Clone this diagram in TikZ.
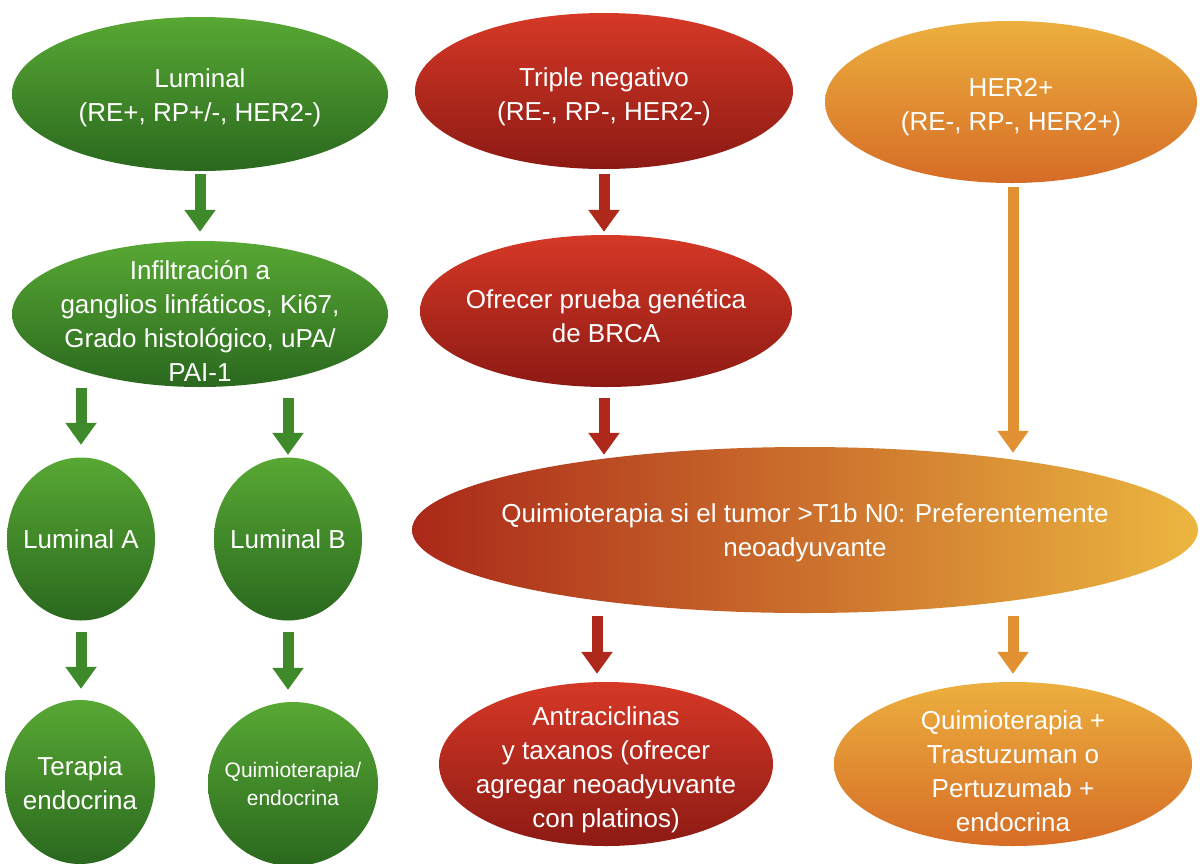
\documentclass[tikz,border=0pt]{standalone}
\usepackage{fontspec}
\setmainfont{Liberation Sans}
\usetikzlibrary{shapes.geometric,arrows.meta,calc}
\definecolor{gtop}{RGB}{88,168,52}
\definecolor{gbot}{RGB}{42,104,30}
\definecolor{rtop}{RGB}{214,56,38}
\definecolor{rbot}{RGB}{140,26,20}
\definecolor{otop}{RGB}{236,175,62}
\definecolor{obot}{RGB}{214,108,38}
\definecolor{bleft}{RGB}{170,40,25}
\definecolor{bright}{RGB}{236,182,64}
\definecolor{garrc}{RGB}{62,138,42}
\definecolor{rarrc}{RGB}{175,40,28}
\definecolor{oarrc}{RGB}{226,145,50}
\newcommand\tpad[1]{\rule{0pt}{#1pt}}
\tikzset{
  bub/.style={ellipse, inner sep=-150pt, text=white, align=center,
    font=\fontsize{26}{34}\selectfont},
  gbub/.style={bub, top color=gtop, bottom color=gbot},
  rbub/.style={bub, top color=rtop, bottom color=rbot},
  obub/.style={bub, top color=otop, bottom color=obot},
  arr/.style={line width=11pt, -{Triangle[width=30pt,length=22pt]}},
  garr/.style={arr, draw=garrc, fill=garrc},
  rarr/.style={arr, draw=rarrc, fill=rarrc},
  oarr/.style={arr, draw=oarrc, fill=oarrc}
}
\begin{document}
\begin{tikzpicture}[x=1pt,y=-1pt]
\useasboundingbox (0,0) rectangle (1200,863);
\fill[white] (0,0) rectangle (1200,863);
% nodes
\node[gbub, minimum width=376pt, minimum height=154pt] (lum) at (200,94) {\tpad{26}Luminal\\(RE+, RP+/-, HER2-)};
\node[rbub, minimum width=378pt, minimum height=156pt] (tn) at (604,91) {\tpad{31}Triple negativo\\(RE-, RP-, HER2-)};
\node[obub, minimum width=372pt, minimum height=162pt] (her) at (1011,102) {\tpad{28}HER2+\\(RE-, RP-, HER2+)};
\node[gbub, minimum width=376pt, minimum height=146pt] (inf) at (200,314) {\tpad{32}Infiltración a\\ganglios linfáticos, Ki67,\\Grado histológico, uPA/\\PAI-1};
\node[rbub, minimum width=372pt, minimum height=152pt] (ofr) at (606,311) {\tpad{30}Ofrecer prueba genética\\de BRCA};
\node[gbub, minimum width=148pt, minimum height=163pt] (la) at (81,539) {Luminal A};
\node[gbub, minimum width=148pt, minimum height=163pt] (lb) at (288,539) {Luminal B};
\node[bub, left color=bleft, right color=bright, minimum width=786pt, minimum height=166pt] (quim) at (805,530) {\tpad{24}Quimioterapia si el tumor >T1b N0: Preferentemente\\neoadyuvante};
\node[gbub, minimum width=150pt, minimum height=164pt] (te) at (80,782) {\tpad{22}Terapia\\endocrina};
\node[gbub, minimum width=170pt, minimum height=164pt, font=\fontsize{21}{28}\selectfont] (qe) at (293,784) {Quimioterapia/\\endocrina};
\node[rbub, minimum width=334pt, minimum height=164pt] (ant) at (606,764) {\tpad{30}Antraciclinas\\y taxanos (ofrecer\\agregar neoadyuvante\\con platinos)};
\node[obub, minimum width=358pt, minimum height=164pt] (qt) at (1013,764) {\tpad{34}Quimioterapia +\\Trastuzuman o\\Pertuzumab +\\endocrina};
% connectors
\draw[garr] ($(lum.south)+(0,3)$) -- ($(inf.north)+(0,-9)$);
\draw[rarr] ($(tn.south)+(0,5)$) -- ($(ofr.north -| tn.south)+(0,-3)$);
\draw[rarr] ($(ofr.south -| tn.south)+(0,11)$) -- ($(quim.north -| tn.south)+(0,8)$);
\draw[oarr] ($(her.south -| qt.north)+(0,4)$) -- ($(quim.north -| qt.north)+(0,6)$);
\draw[garr] ($(inf.south -| la.north)+(0,1)$) -- ($(la.north)+(0,-12.5)$);
\draw[garr] ($(inf.south -| lb.north)+(0,11)$) -- ($(lb.north)+(0,-2.5)$);
\draw[garr] ($(la.south)+(0,11.5)$) -- ($(te.north -| la.south)+(0,-11)$);
\draw[garr] ($(lb.south)+(0,11.5)$) -- ($(qe.north -| lb.south)+(0,-12)$);
\draw[rarr] ($(quim.south -| ant.north)+(-9,3)$) -- ($(ant.north)+(-9,-8)$);
\draw[oarr] ($(quim.south -| qt.north)+(0,3)$) -- ($(qt.north)+(0,-8)$);
\end{tikzpicture}
\end{document}
